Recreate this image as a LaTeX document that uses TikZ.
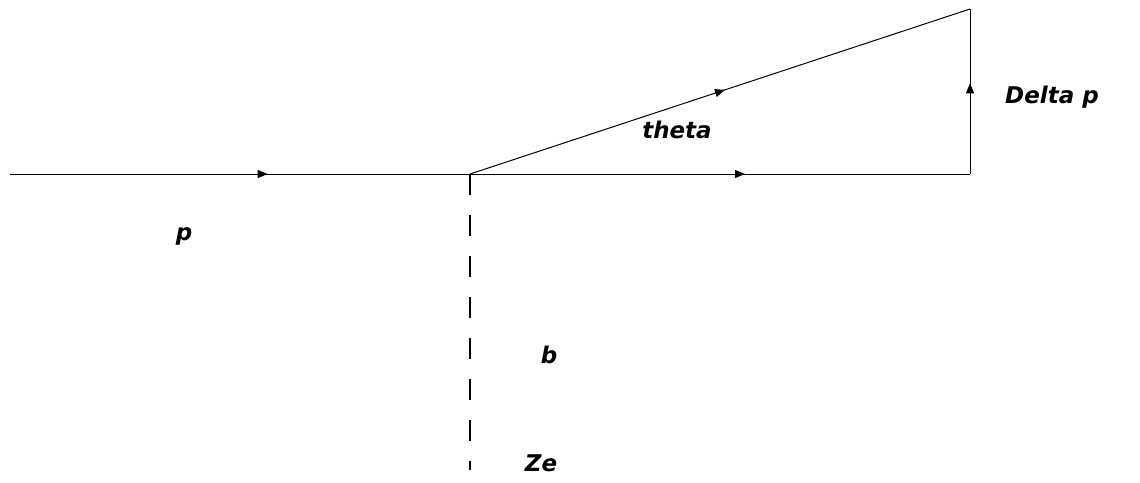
\documentclass[tikz,border=0pt]{standalone}
\usepackage{fontspec}
\setmainfont{DejaVu Sans}
\usetikzlibrary{decorations.markings,arrows.meta}
\tikzset{
  ln/.style={line width=1pt, black},
  midarrow/.style={postaction={decorate},decoration={markings,
     mark=at position #1 with {\arrow{Triangle[length=10pt,width=8pt]}}}},
  lbl/.style={font=\fontsize{23}{25}\selectfont\bfseries\itshape, inner sep=0pt},
  dsh/.style={line width=1.3pt, dash pattern=on 21pt off 20pt}
}
\begin{document}
\begin{tikzpicture}[x=1pt,y=-1pt]
\useasboundingbox (0,0) rectangle (1140,482);
\coordinate (A) at (10,174);
\coordinate (O) at (470,174);
\coordinate (B) at (970,174);
\coordinate (C) at (970,9);
\coordinate (D) at (470,470);
\draw[ln, midarrow=0.56] (A) -- (O);
\draw[ln, midarrow=0.55] (O) -- (B);
\draw[ln, midarrow=0.51] (O) -- (C);
\draw[ln, midarrow=0.55] (B) -- (C);
\draw[dsh] (O) -- (D);
\node[lbl] (lp) at (184,236) {p};
\node[lbl] (lt) at (677,130) {theta};
\node[lbl] (ld) at (1052,97) {Delta p};
\node[lbl] (lb) at (549,355) {b};
\node[lbl] (lz) at (541,463) {Ze};
\end{tikzpicture}
\end{document}
